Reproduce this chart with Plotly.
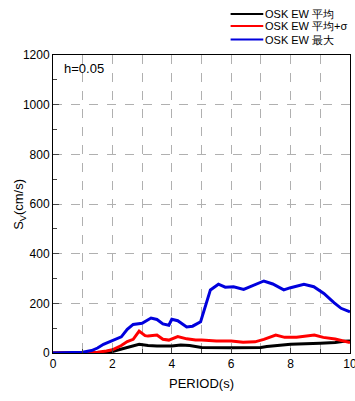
import plotly.graph_objects as go

# Period axis (s) and velocity response spectra Sv (cm/s), h = 0.05
period_max = [0, 0.5, 1.0, 1.3, 1.5, 1.7, 2.0, 2.3, 2.5, 2.7, 3.0, 3.3, 3.5, 3.7, 3.9, 4.0, 4.2,
              4.5, 4.7, 4.97, 5.3, 5.57, 5.8, 6.08, 6.42, 6.76, 7.1, 7.4, 7.77, 8.0, 8.45,
              8.78, 9.12, 9.46, 9.7, 10.0]
sv_max = [0, 1, 3, 10, 20, 35, 50, 65, 95, 115, 120, 141, 135, 117, 112, 136, 130,
          105, 108, 126, 254, 277, 265, 267, 256, 274, 290, 278, 254, 263, 277,
          267, 240, 203, 180, 166]

period_sig = [0, 1.0, 1.2, 1.5, 1.8, 2.0, 2.3, 2.5, 2.7, 2.9, 3.1, 3.2, 3.5, 3.7, 3.9, 4.2,
              4.5, 4.8, 5.0, 5.5, 6.0, 6.4, 6.8, 7.1, 7.5, 7.8, 8.2, 8.8, 9.1, 9.5, 10.0]
sv_sig = [0, 0, 1, 3, 8, 13, 30, 46, 55, 88, 70, 68, 72, 55, 52, 66,
          57, 52, 52, 48, 48, 43, 45, 55, 72, 63, 63, 72, 63, 56, 42]

period_mean = [0, 1.0, 1.5, 1.8, 2.0, 2.3, 2.6, 2.9, 3.2, 3.5, 4.0, 4.3, 4.6, 5.0, 6.0,
               7.0, 7.2, 7.5, 8.0, 9.0, 9.5, 9.8, 10.0]
sv_mean = [0, 0, 1, 3, 6, 15, 25, 35, 30, 28, 28, 32, 30, 22, 21,
           22, 26, 29, 35, 39, 42, 47, 48]

series = [
    ("OSK EW 平均", period_mean, sv_mean, "#000000"),
    ("OSK EW 平均+σ", period_sig, sv_sig, "#ff0000"),
    ("OSK EW 最大", period_max, sv_max, "#0000dd"),
]

font = "Liberation Sans, Arial, sans-serif"
fig = go.Figure()
shapes = []
annotations = []
# key rows above the plot frame (paper coordinates)
legend_rows = [1.138, 1.097, 1.052]
for (name, xs, ys, color), ly in zip(series, legend_rows):
    fig.add_trace(go.Scatter(x=xs, y=ys, mode="lines", name=name,
                             showlegend=False, line=dict(color=color, width=3)))
    shapes.append(dict(type="line", xref="paper", yref="paper",
                       x0=0.598, x1=0.708, y0=ly, y1=ly,
                       line=dict(color=color, width=2)))
    annotations.append(dict(text=name, xref="paper", yref="paper",
                            x=0.708, y=ly, xanchor="left", yanchor="middle",
                            showarrow=False, font=dict(size=11)))

annotations.append(dict(text="h=0.05", x=0.03, y=0.955, xref="paper", yref="paper",
                        xanchor="left", yanchor="middle", showarrow=False,
                        font=dict(size=13)))
# vertical axis title
annotations.append(dict(text="S<sub>V</sub>(cm/s)", x=-0.115, y=0.5,
                        xref="paper", yref="paper", xanchor="center", yanchor="middle",
                        textangle=-90, showarrow=False, font=dict(size=13)))

grid = dict(showgrid=True, gridcolor="#b0b0b0", griddash="dash", gridwidth=1)
fig.update_layout(
    width=355, height=401,
    margin=dict(l=53, r=5, t=55, b=48, autoexpand=False),
    plot_bgcolor="white", paper_bgcolor="white",
    font=dict(family=font, size=12, color="black"),
    showlegend=False,
    xaxis=dict(range=[0, 10], tickvals=list(range(0, 11, 2)),
               ticks="inside", ticklen=5, showline=True, mirror=True,
               linecolor="black", linewidth=1, zeroline=False,
               ticklabeloverflow="allow",
               minor=dict(dtick=1, ticks="inside", ticklen=4, **grid),
               title=dict(text="PERIOD(s)", font=dict(size=13), standoff=8),
               **grid),
    yaxis=dict(range=[0, 1200], tickvals=list(range(0, 1201, 200)),
               ticks="inside", ticklen=6, showline=True, mirror=True,
               linecolor="black", linewidth=1, zeroline=False,
               ticklabeloverflow="allow",
               minor=dict(dtick=100, ticks="inside", ticklen=4, showgrid=False),
               **grid),
    shapes=shapes,
    annotations=annotations,
)

fig.write_html("out.html")
